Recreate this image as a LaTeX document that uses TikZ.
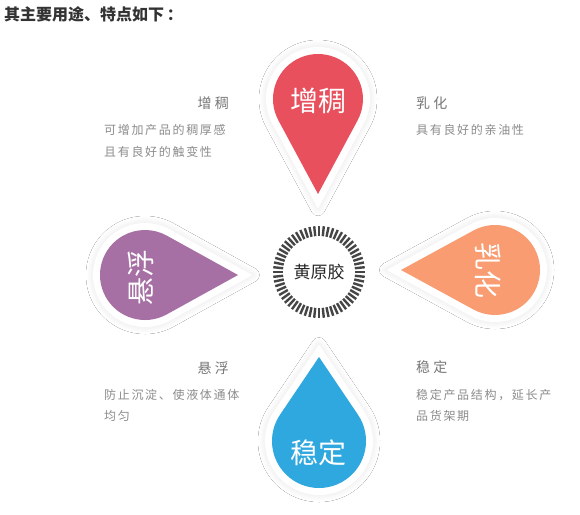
\documentclass[tikz,border=0pt]{standalone}
\usepackage{fontspec}
\setmainfont{Noto Sans CJK SC}
\newfontfamily\cjk{Noto Sans CJK SC}
\newfontfamily\cjkdesc[LetterSpace=14]{Noto Sans CJK SC}
\usetikzlibrary{shadows.blur}

\definecolor{zcred}{HTML}{E8505E}
\definecolor{xfpurple}{HTML}{A670A4}
\definecolor{rhorange}{HTML}{F99C72}
\definecolor{wdblue}{HTML}{2FA7DF}
\definecolor{headgray}{HTML}{777777}
\definecolor{descgray}{HTML}{8C8C8C}
\definecolor{titlegray}{HTML}{333333}
\definecolor{ringgray}{HTML}{454545}

\begin{document}
\begin{tikzpicture}[x=1pt,y=-1pt,
  droptext/.style={text=white,font=\cjk\fontsize{28}{28}\selectfont,inner sep=0pt},
  headtext/.style={text=headgray,font=\cjk\fontsize{14}{14}\selectfont,inner sep=0pt},
  desctext/.style={text=descgray,font=\cjkdesc\fontsize{12}{12}\selectfont,inner sep=0pt},
  dropshadow/.style={blur shadow={shadow xshift=0pt,shadow yshift=0pt,
    shadow blur radius=7pt,shadow blur steps=14,shadow opacity=10}}]
\useasboundingbox[fill=white] (0,0) rectangle (580,514);

% Title
\node[anchor=west,inner sep=0pt,text=titlegray,
  font=\cjk\bfseries\fontsize{16}{16}\selectfont] (title) at (4,14) {其主要用途、特点如下\,：};

% Drops: name/centre/radius/tip distance/tip angle/colour/text/rotation
\foreach \n/\cx/\cy/\r/\d/\ang/\col/\tx/\ty/\rot/\lbl in {
    zengchou/318/99/45/95/90/zcred/318/101/0/增稠,
    xuanfu/145/275/45/93/0/xfpurple/141/277/90/悬浮,
    ruhua/495/270/45/94/180/rhorange/488/270/-90/乳化,
    wending/319/441/47/84/270/wdblue/318/453/0/稳定} {
  \pgfmathsetmacro{\th}{acos(\r/\d)}
  \pgfmathsetmacro{\dout}{\d*(\r+7)/\r}
  \begin{scope}[shift={(\cx,\cy)}]
    \fill[white,dropshadow] (\ang:\dout) -- ({\ang+\th}:{\r+7})
      arc[start angle={\ang+\th},end angle={\ang+360-\th},radius={\r+7}] -- cycle;
    \fill[\col] (\ang:\d) -- ({\ang+\th}:\r)
      arc[start angle={\ang+\th},end angle={\ang+360-\th},radius=\r] -- cycle;
  \end{scope}
  \node[droptext,rotate=\rot] (\n) at (\tx,\ty) {\lbl};
}

% Centre ring
\coordinate (core) at (319,272);
\foreach \a in {0,6,...,354} {
  \draw[ringgray,line width=2.4pt] (core) ++(\a:36) -- ++(\a:10);
}
\node[inner sep=0pt,text=black!85,font=\cjk\fontsize{17}{17}\selectfont] (hyj) at (core) {黄原胶};

% Upper left
\node[headtext,anchor=east] (zc-head) at (229,103) {增\ 稠};
\node[desctext,anchor=west] (zc-line1) at (104,130) {可增加产品的稠厚感};
\node[desctext,anchor=west] (zc-line2) at (104,152) {且有良好的触变性};

% Upper right
\node[headtext,anchor=west] (rh-head) at (416,103) {乳\ 化};
\node[desctext,anchor=west] (rh-line1) at (416,130) {具有良好的亲油性};

% Lower left
\node[headtext,anchor=east] (xf-head) at (229,368) {悬\ 浮};
\node[desctext,anchor=west] (xf-line1) at (104,395) {防止沉淀、使液体通体};
\node[desctext,anchor=west] (xf-line2) at (104,416) {均匀};

% Lower right
\node[headtext,anchor=west] (wd-head) at (416,367) {稳\ 定};
\node[desctext,anchor=west] (wd-line1) at (416,395) {稳定产品结构，延长产};
\node[desctext,anchor=west] (wd-line2) at (416,416) {品货架期};
\end{tikzpicture}
\end{document}
